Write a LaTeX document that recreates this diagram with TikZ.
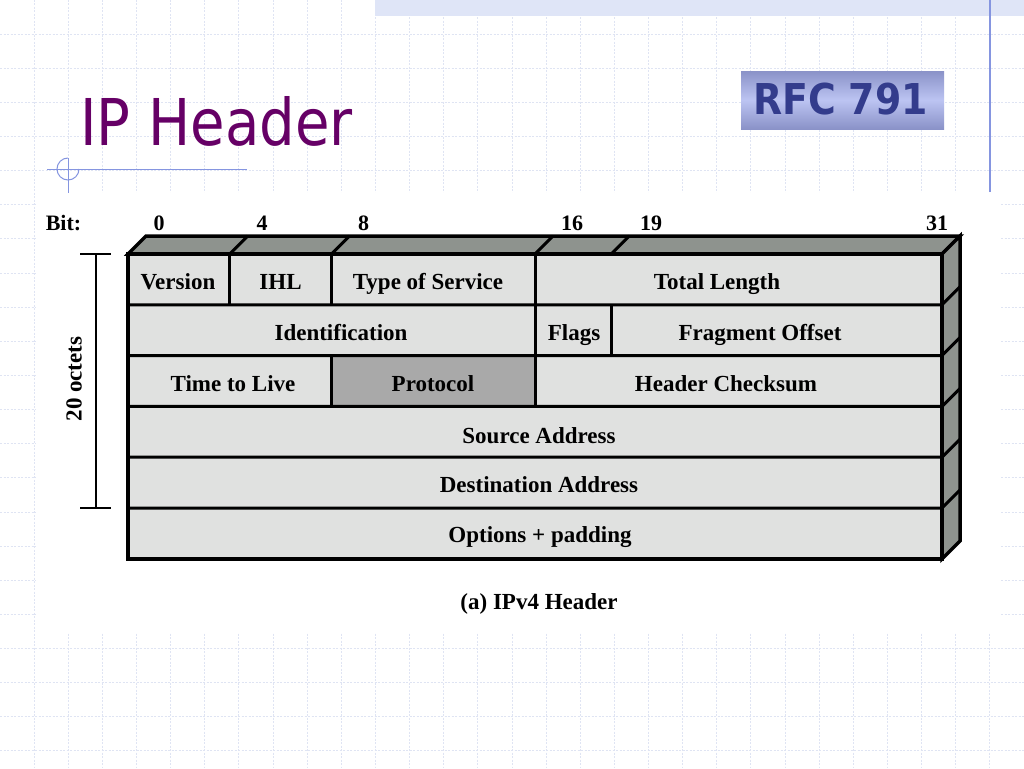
\documentclass[tikz,border=0pt]{standalone}
\usepackage{fontspec}
\setmainfont{Liberation Serif}
\newfontfamily\titlefont{DejaVu Sans}
\usetikzlibrary{calc}
\definecolor{gridc}{HTML}{DFE4F3}
\definecolor{bandc}{HTML}{DFE5F7}
\definecolor{bluel}{HTML}{8595E0}
\definecolor{titlec}{HTML}{660066}
\definecolor{rfctext}{HTML}{333C8C}
\definecolor{rfcdark}{HTML}{8A92C8}
\definecolor{rfclight}{HTML}{BCC4F2}
\definecolor{facel}{HTML}{E0E1E0}
\definecolor{sideg}{HTML}{8E938E}
\definecolor{protog}{HTML}{A9A9A9}
\tikzset{
  gridline/.style={draw=gridc, line width=1pt, dash pattern=on 2pt off 1.5pt},
  outline/.style={draw=black, line width=3.5pt, line join=miter},
  divider/.style={draw=black, line width=3pt},
  fieldtxt/.style={font=\fontsize{23}{27}\selectfont\bfseries, anchor=base, inner sep=0pt},
  bittxt/.style={font=\fontsize{22}{26}\selectfont\bfseries, anchor=base, inner sep=0pt},
}
\begin{document}
\begin{tikzpicture}[x=1pt,y=-1pt]
\useasboundingbox (0,0) rectangle (1024,768);
\fill[white] (0,0) rectangle (1024,768);
% background grid
\foreach \k in {1,...,29} \draw[gridline] ({34.133*\k},0) -- ({34.133*\k},768);
\foreach \k in {1,...,22} \draw[gridline] (0,{34.133*\k}) -- (1024,{34.133*\k});
\fill[bandc] (375,0) rectangle (1024,16);
\fill[white] (36,193) rectangle (1000,632);
\draw[bluel, line width=1.5pt] (990,0) -- (990,192);
% title
\node[anchor=base west, inner sep=0pt, text=titlec, font=\titlefont\fontsize{64.5}{70}\selectfont, xscale=0.87, transform shape] (title) at (80,145) {IP Header};
\draw[bluel, line width=1pt] (47,169) -- (247,169);
\draw[bluel, line width=1pt] (68,158) arc[start angle=270, end angle=0, radius=11];
\draw[bluel, line width=1pt] (68,158) -- (68,193);
% RFC box
\shade[top color=rfcdark, bottom color=rfcdark, middle color=rfclight] (741,71) rectangle (944,129);
\node[anchor=base, inner sep=0pt, text=rfctext, font=\titlefont\bfseries\fontsize{42.5}{46}\selectfont, xscale=0.89, transform shape] (rfc) at (840.5,114) {RFC 791};
% diagram faces
\filldraw[fill=sideg, outline] (128,254) -- (146,236) -- (960,236) -- (942,254) -- cycle;
\filldraw[fill=sideg, outline] (942,254) -- (960,236) -- (960,541) -- (942,559) -- cycle;
\fill[facel] (128,254) rectangle (942,559);
\fill[protog] (331.5,355.6) rectangle (535,406.4);
% horizontal dividers
\foreach \y in {304.8,355.6,406.4,457.2,508} {
  \draw[divider] (128,\y) -- (942,\y) -- (960,\y-18);
}
% top face dividers
\foreach \x in {229.75,331.5,535,611.3} {
  \draw[divider] (\x,254) -- (\x+18,236);
}
% vertical dividers
\draw[divider] (229.75,254) -- (229.75,304.8);
\draw[divider] (331.5,254) -- (331.5,304.8);
\draw[divider] (535,254) -- (535,304.8);
\draw[divider] (535,304.8) -- (535,355.6);
\draw[divider] (611.3,304.8) -- (611.3,355.6);
\draw[divider] (331.5,355.6) -- (331.5,406.4);
\draw[divider] (535,355.6) -- (535,406.4);
\draw[outline] (128,254) rectangle (942,559);
% bit labels
\node[bittxt] (bit) at (63.5,230) {Bit:};
\node[bittxt] (b0) at (159,230) {0};
\node[bittxt] (b4) at (262,230) {4};
\node[bittxt] (b8) at (363.5,230) {8};
\node[bittxt] (b16) at (572,230) {16};
\node[bittxt] (b19) at (651,230) {19};
\node[bittxt] (b31) at (937,230) {31};
% field labels
\node[fieldtxt] (ver) at (178,289) {Version};
\node[fieldtxt] (ihl) at (280.5,289) {IHL};
\node[fieldtxt] (tos) at (428,289) {Type of Service};
\node[fieldtxt] (tlen) at (717,289) {Total Length};
\node[fieldtxt] (ident) at (341,340) {Identification};
\node[fieldtxt] (flags) at (574,340) {Flags};
\node[fieldtxt] (frag) at (760,340) {Fragment Offset};
\node[fieldtxt] (ttl) at (233,391) {Time to Live};
\node[fieldtxt] (proto) at (433,391) {Protocol};
\node[fieldtxt] (csum) at (726,391) {Header Checksum};
\node[fieldtxt] (src) at (539,443) {Source Address};
\node[fieldtxt] (dst) at (539,492) {Destination Address};
\node[fieldtxt] (opt) at (540,542) {Options + padding};
% 20 octets bracket
\coordinate (brtop) at (96,254);
\coordinate (brbot) at (96,508);
\draw[black, line width=2pt] (brtop) -- (brbot);
\draw[black, line width=2pt] ($(brtop)+(-16,0)$) -- ($(brtop)+(15,0)$);
\draw[black, line width=2pt] ($(brbot)+(-16,0)$) -- ($(brbot)+(15,0)$);
\node[font=\fontsize{23}{27}\selectfont\bfseries, rotate=90, inner sep=0pt] (oct) at (74,379) {20 octets};
% caption
\node[fieldtxt] (cap) at (539,609) {(a) IPv4 Header};
\end{tikzpicture}
\end{document}
